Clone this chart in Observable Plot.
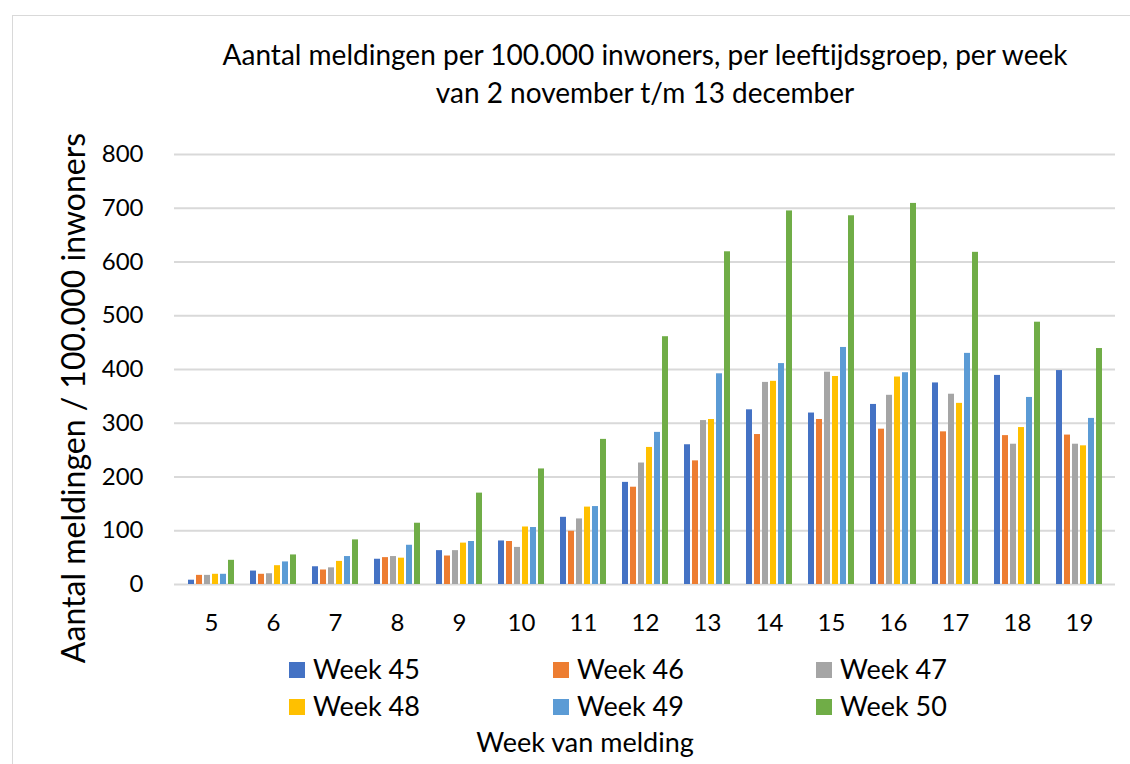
<!DOCTYPE html>
<html>
<head>
<meta charset="utf-8">
<script src="https://cdn.jsdelivr.net/npm/d3@7"></script>
<script src="https://cdn.jsdelivr.net/npm/@observablehq/plot@0.6"></script>
<style>
  html, body { margin: 0; padding: 0; background: #fff; width: 1130px; height: 764px; overflow: hidden; }
  body { position: relative; font-family: Lato, "Liberation Sans", sans-serif; color: #000; }
  #frame { position: absolute; left: 12px; top: 15px; width: 1130px; height: 760px; border: 1.5px solid #d9d9d9; box-sizing: border-box; }
  #title { position: absolute; left: 145px; width: 1000px; top: 35px; text-align: center; font-size: 28px; line-height: 38px; }
  #ytitle { position: absolute; left: -277px; top: 378px; width: 700px; height: 40px; line-height: 40px; text-align: center; font-size: 32px; transform: rotate(-90deg); transform-origin: 50% 50%; white-space: nowrap; }
  .layer { position: absolute; left: 0; top: 130px; }
  .leg { position: absolute; font-size: 27px; line-height: 30px; white-space: nowrap; }
  .sw { position: absolute; left: 0; top: 8px; width: 16px; height: 16px; }
  .lt { position: absolute; left: 24px; top: 0; }
  #xtitle { position: absolute; left: 385px; width: 400px; top: 727px; text-align: center; font-size: 27px; line-height: 30px; }
</style>
</head>
<body>
<div id="frame"></div>
<div id="title">Aantal meldingen per 100.000 inwoners, per leeftijdsgroep, per week<br>van 2 november t/m 13 december</div>
<div id="ytitle">Aantal meldingen / 100.000 inwoners</div>
<div id="grid" class="layer"></div>
<div id="bars" class="layer"></div>
<div id="legend"></div>
<div id="xtitle">Week van melding</div>
<script>
const categories = ["5","6","7","8","9","10","11","12","13","14","15","16","17","18","19"];
const seriesNames = ["Week 45","Week 46","Week 47","Week 48","Week 49","Week 50"];
const seriesColors = ["#4472C4","#ED7D31","#A5A5A5","#FFC000","#5B9BD5","#70AD47"];
const week45 = [8,25,33,47,63,81,125,190,260,325,319,335,375,389,398];
const week46 = [17,19,27,50,53,80,99,181,230,279,307,289,284,277,278];
const week47 = [17,20,31,52,63,69,122,226,305,376,395,352,354,261,261];
const week48 = [19,35,43,49,77,107,144,255,307,378,387,386,337,292,258];
const week49 = [19,42,52,73,80,106,145,283,392,411,441,394,430,348,309];
const week50 = [45,55,83,114,170,215,270,461,619,695,686,709,618,488,439];
const yTicks = [0,100,200,300,400,500,600,700,800];

const seriesValues = [week45, week46, week47, week48, week49, week50];
const data = [];
categories.forEach((c, i) => {
  seriesNames.forEach((s, j) => data.push({cat: c, series: s, value: seriesValues[j][i]}));
});

const common = {
  width: 1130,
  height: 520,
  marginLeft: 174,
  marginRight: 15,
  marginTop: 24,
  marginBottom: 66,
  style: {fontFamily: "Lato, 'Liberation Sans', sans-serif", fontSize: "24px", color: "#000", background: "transparent", overflow: "visible"}
};

// background layer: gridlines + y axis
const gridPlot = Plot.plot({
  ...common,
  x: {domain: categories, axis: null},
  y: {domain: [0, 800], ticks: yTicks, tickSize: 0, tickPadding: 31, label: null},
  marks: [
    Plot.ruleY(yTicks, {stroke: "#d9d9d9", strokeWidth: 1.8})
  ]
});
document.getElementById("grid").appendChild(gridPlot);

// bars layer: grouped bars + category axis
const barPlot = Plot.plot({
  ...common,
  fx: {domain: categories, paddingInner: 0.2, paddingOuter: 0.11, label: null, tickSize: 0, tickPadding: 29},
  x: {domain: seriesNames, axis: null, paddingInner: 0.2, paddingOuter: 0},
  y: {domain: [0, 800], axis: null},
  color: {domain: seriesNames, range: seriesColors},
  marks: [
    Plot.barY(data, {fx: "cat", x: "series", y: "value", fill: "series"})
  ]
});
document.getElementById("bars").appendChild(barPlot);

// legend
const legend = document.getElementById("legend");
const legX = [289, 553, 816];
const legY = [654, 691];
seriesNames.forEach((s, j) => {
  const d = document.createElement("div");
  d.className = "leg";
  d.style.left = legX[j % 3] + "px";
  d.style.top = legY[Math.floor(j / 3)] + "px";
  d.innerHTML = `<span class="sw" style="background:${seriesColors[j]}"></span><span class="lt">${s}</span>`;
  legend.appendChild(d);
});
</script>
</body>
</html>
